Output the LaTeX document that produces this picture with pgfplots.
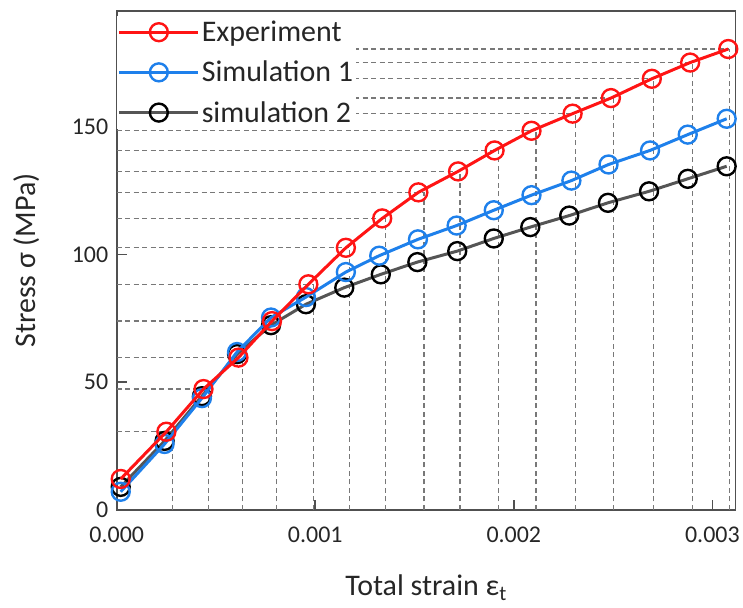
\documentclass[border=0pt]{standalone}
\usepackage{pgfplots}
\pgfplotsset{compat=1.18}
\usepackage{pgfplotstable}
\usepackage{fontspec}
\setmainfont{Carlito}
\definecolor{expred}{RGB}{255,20,20}
\definecolor{simblue}{RGB}{30,128,235}
\definecolor{simgray}{RGB}{85,85,85}
\definecolor{guidegray}{RGB}{120,120,120}
\definecolor{framegray}{RGB}{80,80,80}

\pgfplotstableread{
x y
0.000280 30.6
0.000462 47.3
0.000635 59.6
0.000806 73.9
0.000991 88.3
0.001171 102.6
0.001355 114.1
0.001548 124.3
0.001729 132.5
0.001921 140.7
0.002112 148.4
0.002310 155.1
0.002503 161.2
0.002705 168.75
0.002901 175.1
0.003085 180.4
}\guides

\pgfplotstableread{
x y
0.00002 12.1
0.000250 30.6
0.000437 47.3
0.000613 59.6
0.000782 73.9
0.000965 88.3
0.001154 102.6
0.001337 114.1
0.001519 124.3
0.001719 132.5
0.001903 140.7
0.002089 148.4
0.002296 155.1
0.002489 161.2
0.002695 168.75
0.002888 175.1
0.003080 180.4
}\experiment

\pgfplotstableread{
x y
0.00002 7.1
0.000241 25.8
0.000429 43.75
0.000606 61.8
0.000777 75.3
0.000953 83.3
0.001154 93.1
0.001322 99.5
0.001517 105.9
0.001712 111.3
0.001899 117.3
0.002089 123.2
0.002290 128.9
0.002477 135.2
0.002686 140.7
0.002876 146.9
0.003072 153.1
}\simone

\pgfplotstableread{
x y
0.00002 9.0
0.000241 27.0
0.000429 44.5
0.000606 61.0
0.000777 72.3
0.000953 80.5
0.001146 87.0
0.001330 92.2
0.001514 97.0
0.001715 101.3
0.001899 106.25
0.002083 110.7
0.002279 115.2
0.002474 120.2
0.002681 124.7
0.002876 129.6
0.003072 134.5
}\simtwo

\begin{document}
\begin{tikzpicture}
\begin{axis}[
  at={(0pt,0pt)}, anchor=south west,
  scale only axis, width=620pt, height=500pt,
  xmin=0, xmax=0.003116, ymin=0, ymax=195.3,
  xtick={0,0.001,0.002,0.003}, ytick={0,50,100,150},
  scaled x ticks=false,
  xticklabel style={/pgf/number format/fixed, /pgf/number format/fixed zerofill, /pgf/number format/precision=3, yshift=-14pt},
  yticklabel style={xshift=-5pt},
  /pgf/number format/assume math mode=true,
  tick pos=left, tick align=inside, major tick length=10pt,
  tick style={framegray, line width=1.6pt},
  axis line style={framegray, line width=1.8pt},
  ticklabel style={font=\fontsize{24}{28}\selectfont, text=black!85},
  xlabel={Total strain ε\textsubscript{t}},
  ylabel={Stress σ (MPa)},
  label style={font=\fontsize{30}{36}\selectfont, text=black!85},
  xlabel style={at={(axis description cs:0.5,-0.172)}, anchor=base},
  ylabel style={at={(axis description cs:-0.145,0.5)}, anchor=center},
  clip mode=individual,
  reverse legend,
  legend cell align=left,
  legend image code/.code={\draw[#1, mark repeat=2, mark phase=2] plot coordinates {(0pt,0pt) (39.5pt,0pt) (79pt,0pt)};},
  legend style={at={(axis description cs:0,1)}, anchor=north west, yshift=-5pt, draw=none, fill=white,
    font=\fontsize{30}{35}\selectfont, text=black!85, inner xsep=1pt, inner ysep=3pt, row sep=14pt},
]
\addplot[forget plot, ycomb, guidegray, line width=1.3pt, dash pattern=on 5pt off 3.5pt, no marks] table {\guides};
\addplot[forget plot, xcomb, guidegray, line width=1.3pt, dash pattern=on 5pt off 3.5pt, no marks] table {\guides};

\addplot[simgray, line width=3pt, mark=o, mark size=9pt, mark options={black, fill=white, line width=2.4pt, solid}] table {\simtwo};
\addlegendentry{simulation 2}
\addplot[simblue, line width=3pt, mark=o, mark size=9pt, mark options={simblue, fill=white, line width=2.4pt, solid}] table {\simone};
\addlegendentry{Simulation 1}
\addplot[expred, line width=3pt, mark=o, mark size=9pt, mark options={expred, fill=white, line width=2.4pt, solid}] table {\experiment};
\addlegendentry{Experiment}
\end{axis}
\path[use as bounding box] (-117pt,-98pt) rectangle (626pt,511pt);
\end{tikzpicture}
\end{document}
